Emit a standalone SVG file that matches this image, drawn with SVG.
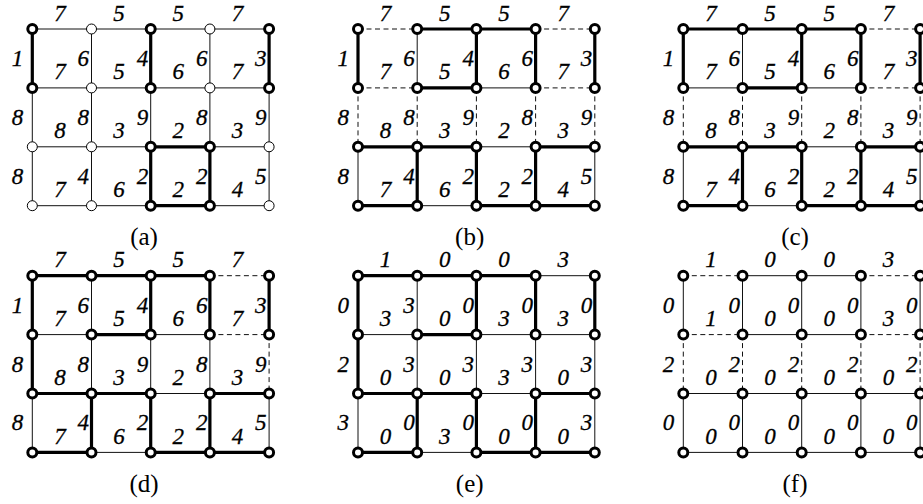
<svg xmlns="http://www.w3.org/2000/svg" width="923" height="504" viewBox="0 0 923 504">
<style>
.t{stroke:#111;stroke-width:1;fill:none}
.k{stroke:#000;stroke-width:3.2;fill:none}
.d{stroke:#111;stroke-width:1;stroke-dasharray:5 3.5;fill:none}
.b{fill:#fff;stroke:#000;stroke-width:3}
.s{fill:#fff;stroke:#000;stroke-width:1}
.w{font-family:'Liberation Serif','Times New Roman',Times,serif;font-style:italic;font-size:23px;fill:#000;stroke:#000;stroke-width:0.3}
.h{text-anchor:middle}
.v{text-anchor:end}
.cap{font-family:'Liberation Serif','Times New Roman',Times,serif;font-size:25px;text-anchor:middle;fill:#000}
</style>
<rect width="923" height="504" fill="#fff"/>

<!-- Panel (a) -->
<g id="panel-a">
<g id="a-connectors">
<line class="t" x1="32.3" y1="29" x2="91.5" y2="29"/><line class="t" x1="91.5" y1="29" x2="150.7" y2="29"/><line class="t" x1="150.7" y1="29" x2="209.9" y2="29"/><line class="t" x1="209.9" y1="29" x2="269.1" y2="29"/>
<line class="t" x1="32.3" y1="87.9" x2="91.5" y2="87.9"/><line class="t" x1="91.5" y1="87.9" x2="150.7" y2="87.9"/><line class="t" x1="150.7" y1="87.9" x2="209.9" y2="87.9"/><line class="t" x1="209.9" y1="87.9" x2="269.1" y2="87.9"/>
<line class="t" x1="32.3" y1="146.8" x2="91.5" y2="146.8"/><line class="t" x1="91.5" y1="146.8" x2="150.7" y2="146.8"/><line class="k" x1="150.7" y1="146.8" x2="209.9" y2="146.8"/><line class="t" x1="209.9" y1="146.8" x2="269.1" y2="146.8"/>
<line class="t" x1="32.3" y1="205.7" x2="91.5" y2="205.7"/><line class="t" x1="91.5" y1="205.7" x2="150.7" y2="205.7"/><line class="k" x1="150.7" y1="205.7" x2="209.9" y2="205.7"/><line class="t" x1="209.9" y1="205.7" x2="269.1" y2="205.7"/>
<line class="k" x1="32.3" y1="29" x2="32.3" y2="87.9"/><line class="t" x1="91.5" y1="29" x2="91.5" y2="87.9"/><line class="k" x1="150.7" y1="29" x2="150.7" y2="87.9"/><line class="t" x1="209.9" y1="29" x2="209.9" y2="87.9"/><line class="k" x1="269.1" y1="29" x2="269.1" y2="87.9"/>
<line class="t" x1="32.3" y1="87.9" x2="32.3" y2="146.8"/><line class="t" x1="91.5" y1="87.9" x2="91.5" y2="146.8"/><line class="t" x1="150.7" y1="87.9" x2="150.7" y2="146.8"/><line class="t" x1="209.9" y1="87.9" x2="209.9" y2="146.8"/><line class="t" x1="269.1" y1="87.9" x2="269.1" y2="146.8"/>
<line class="t" x1="32.3" y1="146.8" x2="32.3" y2="205.7"/><line class="t" x1="91.5" y1="146.8" x2="91.5" y2="205.7"/><line class="k" x1="150.7" y1="146.8" x2="150.7" y2="205.7"/><line class="k" x1="209.9" y1="146.8" x2="209.9" y2="205.7"/><line class="t" x1="269.1" y1="146.8" x2="269.1" y2="205.7"/>
</g>
<g id="a-nodes">
<g id="a-n00"><circle class="b" cx="32.3" cy="29" r="4.5"/></g><g id="a-n10"><circle class="s" cx="91.5" cy="29" r="5"/></g><g id="a-n20"><circle class="b" cx="150.7" cy="29" r="4.5"/></g><g id="a-n30"><circle class="s" cx="209.9" cy="29" r="5"/></g><g id="a-n40"><circle class="b" cx="269.1" cy="29" r="4.5"/></g>
<g id="a-n01"><circle class="b" cx="32.3" cy="87.9" r="4.5"/></g><g id="a-n11"><circle class="s" cx="91.5" cy="87.9" r="5"/></g><g id="a-n21"><circle class="b" cx="150.7" cy="87.9" r="4.5"/></g><g id="a-n31"><circle class="s" cx="209.9" cy="87.9" r="5"/></g><g id="a-n41"><circle class="b" cx="269.1" cy="87.9" r="4.5"/></g>
<g id="a-n02"><circle class="s" cx="32.3" cy="146.8" r="5"/></g><g id="a-n12"><circle class="s" cx="91.5" cy="146.8" r="5"/></g><g id="a-n22"><circle class="b" cx="150.7" cy="146.8" r="4.5"/></g><g id="a-n32"><circle class="b" cx="209.9" cy="146.8" r="4.5"/></g><g id="a-n42"><circle class="s" cx="269.1" cy="146.8" r="5"/></g>
<g id="a-n03"><circle class="s" cx="32.3" cy="205.7" r="5"/></g><g id="a-n13"><circle class="s" cx="91.5" cy="205.7" r="5"/></g><g id="a-n23"><circle class="b" cx="150.7" cy="205.7" r="4.5"/></g><g id="a-n33"><circle class="b" cx="209.9" cy="205.7" r="4.5"/></g><g id="a-n43"><circle class="s" cx="269.1" cy="205.7" r="5"/></g>
</g>
<g id="a-weights" class="w">
<text class="h" x="59.9" y="20.5">7</text><text class="h" x="119.1" y="20.5">5</text><text class="h" x="178.3" y="20.5">5</text><text class="h" x="237.5" y="20.5">7</text>
<text class="h" x="59.9" y="79.4">7</text><text class="h" x="119.1" y="79.4">5</text><text class="h" x="178.3" y="79.4">6</text><text class="h" x="237.5" y="79.4">7</text>
<text class="h" x="59.9" y="138.3">8</text><text class="h" x="119.1" y="138.3">3</text><text class="h" x="178.3" y="138.3">2</text><text class="h" x="237.5" y="138.3">3</text>
<text class="h" x="59.9" y="197.2">7</text><text class="h" x="119.1" y="197.2">6</text><text class="h" x="178.3" y="197.2">2</text><text class="h" x="237.5" y="197.2">4</text>
<text class="v" x="23.3" y="66">1</text><text class="v" x="89" y="66">6</text><text class="v" x="148.2" y="66">4</text><text class="v" x="207.4" y="66">6</text><text class="v" x="266.6" y="66">3</text>
<text class="v" x="23.3" y="124.9">8</text><text class="v" x="89" y="124.9">8</text><text class="v" x="148.2" y="124.9">9</text><text class="v" x="207.4" y="124.9">8</text><text class="v" x="266.6" y="124.9">9</text>
<text class="v" x="23.3" y="183.8">8</text><text class="v" x="89" y="183.8">4</text><text class="v" x="148.2" y="183.8">2</text><text class="v" x="207.4" y="183.8">2</text><text class="v" x="266.6" y="183.8">5</text>
</g>
<text class="cap" x="144" y="245">(a)</text>
</g>

<!-- Panel (b) -->
<g id="panel-b" transform="translate(325.7,0)">
<g id="b-connectors">
<line class="d" x1="32.3" y1="29" x2="91.5" y2="29"/><line class="k" x1="91.5" y1="29" x2="150.7" y2="29"/><line class="k" x1="150.7" y1="29" x2="209.9" y2="29"/><line class="d" x1="209.9" y1="29" x2="269.1" y2="29"/>
<line class="d" x1="32.3" y1="87.9" x2="91.5" y2="87.9"/><line class="k" x1="91.5" y1="87.9" x2="150.7" y2="87.9"/><line class="t" x1="150.7" y1="87.9" x2="209.9" y2="87.9"/><line class="d" x1="209.9" y1="87.9" x2="269.1" y2="87.9"/>
<line class="k" x1="32.3" y1="146.8" x2="91.5" y2="146.8"/><line class="k" x1="91.5" y1="146.8" x2="150.7" y2="146.8"/><line class="t" x1="150.7" y1="146.8" x2="209.9" y2="146.8"/><line class="k" x1="209.9" y1="146.8" x2="269.1" y2="146.8"/>
<line class="k" x1="32.3" y1="205.7" x2="91.5" y2="205.7"/><line class="t" x1="91.5" y1="205.7" x2="150.7" y2="205.7"/><line class="k" x1="150.7" y1="205.7" x2="209.9" y2="205.7"/><line class="k" x1="209.9" y1="205.7" x2="269.1" y2="205.7"/>
<line class="k" x1="32.3" y1="29" x2="32.3" y2="87.9"/><line class="t" x1="91.5" y1="29" x2="91.5" y2="87.9"/><line class="k" x1="150.7" y1="29" x2="150.7" y2="87.9"/><line class="k" x1="209.9" y1="29" x2="209.9" y2="87.9"/><line class="k" x1="269.1" y1="29" x2="269.1" y2="87.9"/>
<line class="d" x1="32.3" y1="87.9" x2="32.3" y2="146.8"/><line class="d" x1="91.5" y1="87.9" x2="91.5" y2="146.8"/><line class="d" x1="150.7" y1="87.9" x2="150.7" y2="146.8"/><line class="d" x1="209.9" y1="87.9" x2="209.9" y2="146.8"/><line class="d" x1="269.1" y1="87.9" x2="269.1" y2="146.8"/>
<line class="t" x1="32.3" y1="146.8" x2="32.3" y2="205.7"/><line class="k" x1="91.5" y1="146.8" x2="91.5" y2="205.7"/><line class="k" x1="150.7" y1="146.8" x2="150.7" y2="205.7"/><line class="k" x1="209.9" y1="146.8" x2="209.9" y2="205.7"/><line class="t" x1="269.1" y1="146.8" x2="269.1" y2="205.7"/>
</g>
<g id="b-nodes">
<g id="b-n00"><circle class="b" cx="32.3" cy="29" r="4.5"/></g><g id="b-n10"><circle class="b" cx="91.5" cy="29" r="4.5"/></g><g id="b-n20"><circle class="b" cx="150.7" cy="29" r="4.5"/></g><g id="b-n30"><circle class="b" cx="209.9" cy="29" r="4.5"/></g><g id="b-n40"><circle class="b" cx="269.1" cy="29" r="4.5"/></g>
<g id="b-n01"><circle class="b" cx="32.3" cy="87.9" r="4.5"/></g><g id="b-n11"><circle class="b" cx="91.5" cy="87.9" r="4.5"/></g><g id="b-n21"><circle class="b" cx="150.7" cy="87.9" r="4.5"/></g><g id="b-n31"><circle class="b" cx="209.9" cy="87.9" r="4.5"/></g><g id="b-n41"><circle class="b" cx="269.1" cy="87.9" r="4.5"/></g>
<g id="b-n02"><circle class="b" cx="32.3" cy="146.8" r="4.5"/></g><g id="b-n12"><circle class="b" cx="91.5" cy="146.8" r="4.5"/></g><g id="b-n22"><circle class="b" cx="150.7" cy="146.8" r="4.5"/></g><g id="b-n32"><circle class="b" cx="209.9" cy="146.8" r="4.5"/></g><g id="b-n42"><circle class="b" cx="269.1" cy="146.8" r="4.5"/></g>
<g id="b-n03"><circle class="b" cx="32.3" cy="205.7" r="4.5"/></g><g id="b-n13"><circle class="b" cx="91.5" cy="205.7" r="4.5"/></g><g id="b-n23"><circle class="b" cx="150.7" cy="205.7" r="4.5"/></g><g id="b-n33"><circle class="b" cx="209.9" cy="205.7" r="4.5"/></g><g id="b-n43"><circle class="b" cx="269.1" cy="205.7" r="4.5"/></g>
</g>
<g id="b-weights" class="w">
<text class="h" x="59.9" y="20.5">7</text><text class="h" x="119.1" y="20.5">5</text><text class="h" x="178.3" y="20.5">5</text><text class="h" x="237.5" y="20.5">7</text>
<text class="h" x="59.9" y="79.4">7</text><text class="h" x="119.1" y="79.4">5</text><text class="h" x="178.3" y="79.4">6</text><text class="h" x="237.5" y="79.4">7</text>
<text class="h" x="59.9" y="138.3">8</text><text class="h" x="119.1" y="138.3">3</text><text class="h" x="178.3" y="138.3">2</text><text class="h" x="237.5" y="138.3">3</text>
<text class="h" x="59.9" y="197.2">7</text><text class="h" x="119.1" y="197.2">6</text><text class="h" x="178.3" y="197.2">2</text><text class="h" x="237.5" y="197.2">4</text>
<text class="v" x="23.3" y="66">1</text><text class="v" x="89" y="66">6</text><text class="v" x="148.2" y="66">4</text><text class="v" x="207.4" y="66">6</text><text class="v" x="266.6" y="66">3</text>
<text class="v" x="23.3" y="124.9">8</text><text class="v" x="89" y="124.9">8</text><text class="v" x="148.2" y="124.9">9</text><text class="v" x="207.4" y="124.9">8</text><text class="v" x="266.6" y="124.9">9</text>
<text class="v" x="23.3" y="183.8">8</text><text class="v" x="89" y="183.8">4</text><text class="v" x="148.2" y="183.8">2</text><text class="v" x="207.4" y="183.8">2</text><text class="v" x="266.6" y="183.8">5</text>
</g>
<text class="cap" x="144" y="245">(b)</text>
</g>

<!-- Panel (c) -->
<g id="panel-c" transform="translate(651,0)">
<g id="c-connectors">
<line class="k" x1="32.3" y1="29" x2="91.5" y2="29"/><line class="k" x1="91.5" y1="29" x2="150.7" y2="29"/><line class="k" x1="150.7" y1="29" x2="209.9" y2="29"/><line class="d" x1="209.9" y1="29" x2="269.1" y2="29"/>
<line class="t" x1="32.3" y1="87.9" x2="91.5" y2="87.9"/><line class="k" x1="91.5" y1="87.9" x2="150.7" y2="87.9"/><line class="t" x1="150.7" y1="87.9" x2="209.9" y2="87.9"/><line class="d" x1="209.9" y1="87.9" x2="269.1" y2="87.9"/>
<line class="k" x1="32.3" y1="146.8" x2="91.5" y2="146.8"/><line class="k" x1="91.5" y1="146.8" x2="150.7" y2="146.8"/><line class="t" x1="150.7" y1="146.8" x2="209.9" y2="146.8"/><line class="k" x1="209.9" y1="146.8" x2="269.1" y2="146.8"/>
<line class="k" x1="32.3" y1="205.7" x2="91.5" y2="205.7"/><line class="t" x1="91.5" y1="205.7" x2="150.7" y2="205.7"/><line class="k" x1="150.7" y1="205.7" x2="209.9" y2="205.7"/><line class="k" x1="209.9" y1="205.7" x2="269.1" y2="205.7"/>
<line class="k" x1="32.3" y1="29" x2="32.3" y2="87.9"/><line class="t" x1="91.5" y1="29" x2="91.5" y2="87.9"/><line class="k" x1="150.7" y1="29" x2="150.7" y2="87.9"/><line class="k" x1="209.9" y1="29" x2="209.9" y2="87.9"/><line class="k" x1="269.1" y1="29" x2="269.1" y2="87.9"/>
<line class="d" x1="32.3" y1="87.9" x2="32.3" y2="146.8"/><line class="d" x1="91.5" y1="87.9" x2="91.5" y2="146.8"/><line class="d" x1="150.7" y1="87.9" x2="150.7" y2="146.8"/><line class="d" x1="209.9" y1="87.9" x2="209.9" y2="146.8"/><line class="d" x1="269.1" y1="87.9" x2="269.1" y2="146.8"/>
<line class="t" x1="32.3" y1="146.8" x2="32.3" y2="205.7"/><line class="k" x1="91.5" y1="146.8" x2="91.5" y2="205.7"/><line class="k" x1="150.7" y1="146.8" x2="150.7" y2="205.7"/><line class="k" x1="209.9" y1="146.8" x2="209.9" y2="205.7"/><line class="t" x1="269.1" y1="146.8" x2="269.1" y2="205.7"/>
</g>
<g id="c-nodes">
<g id="c-n00"><circle class="b" cx="32.3" cy="29" r="4.5"/></g><g id="c-n10"><circle class="b" cx="91.5" cy="29" r="4.5"/></g><g id="c-n20"><circle class="b" cx="150.7" cy="29" r="4.5"/></g><g id="c-n30"><circle class="b" cx="209.9" cy="29" r="4.5"/></g><g id="c-n40"><circle class="b" cx="269.1" cy="29" r="4.5"/></g>
<g id="c-n01"><circle class="b" cx="32.3" cy="87.9" r="4.5"/></g><g id="c-n11"><circle class="b" cx="91.5" cy="87.9" r="4.5"/></g><g id="c-n21"><circle class="b" cx="150.7" cy="87.9" r="4.5"/></g><g id="c-n31"><circle class="b" cx="209.9" cy="87.9" r="4.5"/></g><g id="c-n41"><circle class="b" cx="269.1" cy="87.9" r="4.5"/></g>
<g id="c-n02"><circle class="b" cx="32.3" cy="146.8" r="4.5"/></g><g id="c-n12"><circle class="b" cx="91.5" cy="146.8" r="4.5"/></g><g id="c-n22"><circle class="b" cx="150.7" cy="146.8" r="4.5"/></g><g id="c-n32"><circle class="b" cx="209.9" cy="146.8" r="4.5"/></g><g id="c-n42"><circle class="b" cx="269.1" cy="146.8" r="4.5"/></g>
<g id="c-n03"><circle class="b" cx="32.3" cy="205.7" r="4.5"/></g><g id="c-n13"><circle class="b" cx="91.5" cy="205.7" r="4.5"/></g><g id="c-n23"><circle class="b" cx="150.7" cy="205.7" r="4.5"/></g><g id="c-n33"><circle class="b" cx="209.9" cy="205.7" r="4.5"/></g><g id="c-n43"><circle class="b" cx="269.1" cy="205.7" r="4.5"/></g>
</g>
<g id="c-weights" class="w">
<text class="h" x="59.9" y="20.5">7</text><text class="h" x="119.1" y="20.5">5</text><text class="h" x="178.3" y="20.5">5</text><text class="h" x="237.5" y="20.5">7</text>
<text class="h" x="59.9" y="79.4">7</text><text class="h" x="119.1" y="79.4">5</text><text class="h" x="178.3" y="79.4">6</text><text class="h" x="237.5" y="79.4">7</text>
<text class="h" x="59.9" y="138.3">8</text><text class="h" x="119.1" y="138.3">3</text><text class="h" x="178.3" y="138.3">2</text><text class="h" x="237.5" y="138.3">3</text>
<text class="h" x="59.9" y="197.2">7</text><text class="h" x="119.1" y="197.2">6</text><text class="h" x="178.3" y="197.2">2</text><text class="h" x="237.5" y="197.2">4</text>
<text class="v" x="23.3" y="66">1</text><text class="v" x="89" y="66">6</text><text class="v" x="148.2" y="66">4</text><text class="v" x="207.4" y="66">6</text><text class="v" x="266.6" y="66">3</text>
<text class="v" x="23.3" y="124.9">8</text><text class="v" x="89" y="124.9">8</text><text class="v" x="148.2" y="124.9">9</text><text class="v" x="207.4" y="124.9">8</text><text class="v" x="266.6" y="124.9">9</text>
<text class="v" x="23.3" y="183.8">8</text><text class="v" x="89" y="183.8">4</text><text class="v" x="148.2" y="183.8">2</text><text class="v" x="207.4" y="183.8">2</text><text class="v" x="266.6" y="183.8">5</text>
</g>
<text class="cap" x="144" y="245">(c)</text>
</g>

<!-- Panel (d) -->
<g id="panel-d" transform="translate(0,246.7)">
<g id="d-connectors">
<line class="k" x1="32.3" y1="29" x2="91.5" y2="29"/><line class="k" x1="91.5" y1="29" x2="150.7" y2="29"/><line class="k" x1="150.7" y1="29" x2="209.9" y2="29"/><line class="d" x1="209.9" y1="29" x2="269.1" y2="29"/>
<line class="t" x1="32.3" y1="87.9" x2="91.5" y2="87.9"/><line class="k" x1="91.5" y1="87.9" x2="150.7" y2="87.9"/><line class="t" x1="150.7" y1="87.9" x2="209.9" y2="87.9"/><line class="d" x1="209.9" y1="87.9" x2="269.1" y2="87.9"/>
<line class="k" x1="32.3" y1="146.8" x2="91.5" y2="146.8"/><line class="k" x1="91.5" y1="146.8" x2="150.7" y2="146.8"/><line class="t" x1="150.7" y1="146.8" x2="209.9" y2="146.8"/><line class="k" x1="209.9" y1="146.8" x2="269.1" y2="146.8"/>
<line class="k" x1="32.3" y1="205.7" x2="91.5" y2="205.7"/><line class="t" x1="91.5" y1="205.7" x2="150.7" y2="205.7"/><line class="k" x1="150.7" y1="205.7" x2="209.9" y2="205.7"/><line class="k" x1="209.9" y1="205.7" x2="269.1" y2="205.7"/>
<line class="k" x1="32.3" y1="29" x2="32.3" y2="87.9"/><line class="t" x1="91.5" y1="29" x2="91.5" y2="87.9"/><line class="k" x1="150.7" y1="29" x2="150.7" y2="87.9"/><line class="k" x1="209.9" y1="29" x2="209.9" y2="87.9"/><line class="k" x1="269.1" y1="29" x2="269.1" y2="87.9"/>
<line class="k" x1="32.3" y1="87.9" x2="32.3" y2="146.8"/><line class="t" x1="91.5" y1="87.9" x2="91.5" y2="146.8"/><line class="t" x1="150.7" y1="87.9" x2="150.7" y2="146.8"/><line class="t" x1="209.9" y1="87.9" x2="209.9" y2="146.8"/><line class="d" x1="269.1" y1="87.9" x2="269.1" y2="146.8"/>
<line class="t" x1="32.3" y1="146.8" x2="32.3" y2="205.7"/><line class="k" x1="91.5" y1="146.8" x2="91.5" y2="205.7"/><line class="k" x1="150.7" y1="146.8" x2="150.7" y2="205.7"/><line class="k" x1="209.9" y1="146.8" x2="209.9" y2="205.7"/><line class="t" x1="269.1" y1="146.8" x2="269.1" y2="205.7"/>
</g>
<g id="d-nodes">
<g id="d-n00"><circle class="b" cx="32.3" cy="29" r="4.5"/></g><g id="d-n10"><circle class="b" cx="91.5" cy="29" r="4.5"/></g><g id="d-n20"><circle class="b" cx="150.7" cy="29" r="4.5"/></g><g id="d-n30"><circle class="b" cx="209.9" cy="29" r="4.5"/></g><g id="d-n40"><circle class="b" cx="269.1" cy="29" r="4.5"/></g>
<g id="d-n01"><circle class="b" cx="32.3" cy="87.9" r="4.5"/></g><g id="d-n11"><circle class="b" cx="91.5" cy="87.9" r="4.5"/></g><g id="d-n21"><circle class="b" cx="150.7" cy="87.9" r="4.5"/></g><g id="d-n31"><circle class="b" cx="209.9" cy="87.9" r="4.5"/></g><g id="d-n41"><circle class="b" cx="269.1" cy="87.9" r="4.5"/></g>
<g id="d-n02"><circle class="b" cx="32.3" cy="146.8" r="4.5"/></g><g id="d-n12"><circle class="b" cx="91.5" cy="146.8" r="4.5"/></g><g id="d-n22"><circle class="b" cx="150.7" cy="146.8" r="4.5"/></g><g id="d-n32"><circle class="b" cx="209.9" cy="146.8" r="4.5"/></g><g id="d-n42"><circle class="b" cx="269.1" cy="146.8" r="4.5"/></g>
<g id="d-n03"><circle class="b" cx="32.3" cy="205.7" r="4.5"/></g><g id="d-n13"><circle class="b" cx="91.5" cy="205.7" r="4.5"/></g><g id="d-n23"><circle class="b" cx="150.7" cy="205.7" r="4.5"/></g><g id="d-n33"><circle class="b" cx="209.9" cy="205.7" r="4.5"/></g><g id="d-n43"><circle class="b" cx="269.1" cy="205.7" r="4.5"/></g>
</g>
<g id="d-weights" class="w">
<text class="h" x="59.9" y="20.5">7</text><text class="h" x="119.1" y="20.5">5</text><text class="h" x="178.3" y="20.5">5</text><text class="h" x="237.5" y="20.5">7</text>
<text class="h" x="59.9" y="79.4">7</text><text class="h" x="119.1" y="79.4">5</text><text class="h" x="178.3" y="79.4">6</text><text class="h" x="237.5" y="79.4">7</text>
<text class="h" x="59.9" y="138.3">8</text><text class="h" x="119.1" y="138.3">3</text><text class="h" x="178.3" y="138.3">2</text><text class="h" x="237.5" y="138.3">3</text>
<text class="h" x="59.9" y="197.2">7</text><text class="h" x="119.1" y="197.2">6</text><text class="h" x="178.3" y="197.2">2</text><text class="h" x="237.5" y="197.2">4</text>
<text class="v" x="23.3" y="66">1</text><text class="v" x="89" y="66">6</text><text class="v" x="148.2" y="66">4</text><text class="v" x="207.4" y="66">6</text><text class="v" x="266.6" y="66">3</text>
<text class="v" x="23.3" y="124.9">8</text><text class="v" x="89" y="124.9">8</text><text class="v" x="148.2" y="124.9">9</text><text class="v" x="207.4" y="124.9">8</text><text class="v" x="266.6" y="124.9">9</text>
<text class="v" x="23.3" y="183.8">8</text><text class="v" x="89" y="183.8">4</text><text class="v" x="148.2" y="183.8">2</text><text class="v" x="207.4" y="183.8">2</text><text class="v" x="266.6" y="183.8">5</text>
</g>
<text class="cap" x="144" y="245">(d)</text>
</g>

<!-- Panel (e) -->
<g id="panel-e" transform="translate(325.7,246.7)">
<g id="e-connectors">
<line class="k" x1="32.3" y1="29" x2="91.5" y2="29"/><line class="k" x1="91.5" y1="29" x2="150.7" y2="29"/><line class="k" x1="150.7" y1="29" x2="209.9" y2="29"/><line class="t" x1="209.9" y1="29" x2="269.1" y2="29"/>
<line class="t" x1="32.3" y1="87.9" x2="91.5" y2="87.9"/><line class="k" x1="91.5" y1="87.9" x2="150.7" y2="87.9"/><line class="t" x1="150.7" y1="87.9" x2="209.9" y2="87.9"/><line class="t" x1="209.9" y1="87.9" x2="269.1" y2="87.9"/>
<line class="k" x1="32.3" y1="146.8" x2="91.5" y2="146.8"/><line class="k" x1="91.5" y1="146.8" x2="150.7" y2="146.8"/><line class="t" x1="150.7" y1="146.8" x2="209.9" y2="146.8"/><line class="k" x1="209.9" y1="146.8" x2="269.1" y2="146.8"/>
<line class="k" x1="32.3" y1="205.7" x2="91.5" y2="205.7"/><line class="t" x1="91.5" y1="205.7" x2="150.7" y2="205.7"/><line class="k" x1="150.7" y1="205.7" x2="209.9" y2="205.7"/><line class="k" x1="209.9" y1="205.7" x2="269.1" y2="205.7"/>
<line class="k" x1="32.3" y1="29" x2="32.3" y2="87.9"/><line class="t" x1="91.5" y1="29" x2="91.5" y2="87.9"/><line class="k" x1="150.7" y1="29" x2="150.7" y2="87.9"/><line class="k" x1="209.9" y1="29" x2="209.9" y2="87.9"/><line class="k" x1="269.1" y1="29" x2="269.1" y2="87.9"/>
<line class="k" x1="32.3" y1="87.9" x2="32.3" y2="146.8"/><line class="t" x1="91.5" y1="87.9" x2="91.5" y2="146.8"/><line class="t" x1="150.7" y1="87.9" x2="150.7" y2="146.8"/><line class="t" x1="209.9" y1="87.9" x2="209.9" y2="146.8"/><line class="t" x1="269.1" y1="87.9" x2="269.1" y2="146.8"/>
<line class="t" x1="32.3" y1="146.8" x2="32.3" y2="205.7"/><line class="k" x1="91.5" y1="146.8" x2="91.5" y2="205.7"/><line class="k" x1="150.7" y1="146.8" x2="150.7" y2="205.7"/><line class="k" x1="209.9" y1="146.8" x2="209.9" y2="205.7"/><line class="t" x1="269.1" y1="146.8" x2="269.1" y2="205.7"/>
</g>
<g id="e-nodes">
<g id="e-n00"><circle class="b" cx="32.3" cy="29" r="4.5"/></g><g id="e-n10"><circle class="b" cx="91.5" cy="29" r="4.5"/></g><g id="e-n20"><circle class="b" cx="150.7" cy="29" r="4.5"/></g><g id="e-n30"><circle class="b" cx="209.9" cy="29" r="4.5"/></g><g id="e-n40"><circle class="b" cx="269.1" cy="29" r="4.5"/></g>
<g id="e-n01"><circle class="b" cx="32.3" cy="87.9" r="4.5"/></g><g id="e-n11"><circle class="b" cx="91.5" cy="87.9" r="4.5"/></g><g id="e-n21"><circle class="b" cx="150.7" cy="87.9" r="4.5"/></g><g id="e-n31"><circle class="b" cx="209.9" cy="87.9" r="4.5"/></g><g id="e-n41"><circle class="b" cx="269.1" cy="87.9" r="4.5"/></g>
<g id="e-n02"><circle class="b" cx="32.3" cy="146.8" r="4.5"/></g><g id="e-n12"><circle class="b" cx="91.5" cy="146.8" r="4.5"/></g><g id="e-n22"><circle class="b" cx="150.7" cy="146.8" r="4.5"/></g><g id="e-n32"><circle class="b" cx="209.9" cy="146.8" r="4.5"/></g><g id="e-n42"><circle class="b" cx="269.1" cy="146.8" r="4.5"/></g>
<g id="e-n03"><circle class="b" cx="32.3" cy="205.7" r="4.5"/></g><g id="e-n13"><circle class="b" cx="91.5" cy="205.7" r="4.5"/></g><g id="e-n23"><circle class="b" cx="150.7" cy="205.7" r="4.5"/></g><g id="e-n33"><circle class="b" cx="209.9" cy="205.7" r="4.5"/></g><g id="e-n43"><circle class="b" cx="269.1" cy="205.7" r="4.5"/></g>
</g>
<g id="e-weights" class="w">
<text class="h" x="59.9" y="20.5">1</text><text class="h" x="119.1" y="20.5">0</text><text class="h" x="178.3" y="20.5">0</text><text class="h" x="237.5" y="20.5">3</text>
<text class="h" x="59.9" y="79.4">3</text><text class="h" x="119.1" y="79.4">0</text><text class="h" x="178.3" y="79.4">3</text><text class="h" x="237.5" y="79.4">3</text>
<text class="h" x="59.9" y="138.3">0</text><text class="h" x="119.1" y="138.3">0</text><text class="h" x="178.3" y="138.3">3</text><text class="h" x="237.5" y="138.3">0</text>
<text class="h" x="59.9" y="197.2">0</text><text class="h" x="119.1" y="197.2">3</text><text class="h" x="178.3" y="197.2">0</text><text class="h" x="237.5" y="197.2">0</text>
<text class="v" x="23.3" y="66">0</text><text class="v" x="89" y="66">3</text><text class="v" x="148.2" y="66">0</text><text class="v" x="207.4" y="66">0</text><text class="v" x="266.6" y="66">0</text>
<text class="v" x="23.3" y="124.9">2</text><text class="v" x="89" y="124.9">3</text><text class="v" x="148.2" y="124.9">3</text><text class="v" x="207.4" y="124.9">3</text><text class="v" x="266.6" y="124.9">3</text>
<text class="v" x="23.3" y="183.8">3</text><text class="v" x="89" y="183.8">0</text><text class="v" x="148.2" y="183.8">0</text><text class="v" x="207.4" y="183.8">0</text><text class="v" x="266.6" y="183.8">3</text>
</g>
<text class="cap" x="144" y="245">(e)</text>
</g>

<!-- Panel (f) -->
<g id="panel-f" transform="translate(651,246.7)">
<g id="f-connectors">
<line class="d" x1="32.3" y1="29" x2="91.5" y2="29"/><line class="t" x1="91.5" y1="29" x2="150.7" y2="29"/><line class="t" x1="150.7" y1="29" x2="209.9" y2="29"/><line class="d" x1="209.9" y1="29" x2="269.1" y2="29"/>
<line class="d" x1="32.3" y1="87.9" x2="91.5" y2="87.9"/><line class="t" x1="91.5" y1="87.9" x2="150.7" y2="87.9"/><line class="t" x1="150.7" y1="87.9" x2="209.9" y2="87.9"/><line class="d" x1="209.9" y1="87.9" x2="269.1" y2="87.9"/>
<line class="t" x1="32.3" y1="146.8" x2="91.5" y2="146.8"/><line class="t" x1="91.5" y1="146.8" x2="150.7" y2="146.8"/><line class="t" x1="150.7" y1="146.8" x2="209.9" y2="146.8"/><line class="t" x1="209.9" y1="146.8" x2="269.1" y2="146.8"/>
<line class="t" x1="32.3" y1="205.7" x2="91.5" y2="205.7"/><line class="t" x1="91.5" y1="205.7" x2="150.7" y2="205.7"/><line class="t" x1="150.7" y1="205.7" x2="209.9" y2="205.7"/><line class="t" x1="209.9" y1="205.7" x2="269.1" y2="205.7"/>
<line class="t" x1="32.3" y1="29" x2="32.3" y2="87.9"/><line class="t" x1="91.5" y1="29" x2="91.5" y2="87.9"/><line class="t" x1="150.7" y1="29" x2="150.7" y2="87.9"/><line class="t" x1="209.9" y1="29" x2="209.9" y2="87.9"/><line class="t" x1="269.1" y1="29" x2="269.1" y2="87.9"/>
<line class="d" x1="32.3" y1="87.9" x2="32.3" y2="146.8"/><line class="d" x1="91.5" y1="87.9" x2="91.5" y2="146.8"/><line class="d" x1="150.7" y1="87.9" x2="150.7" y2="146.8"/><line class="d" x1="209.9" y1="87.9" x2="209.9" y2="146.8"/><line class="d" x1="269.1" y1="87.9" x2="269.1" y2="146.8"/>
<line class="t" x1="32.3" y1="146.8" x2="32.3" y2="205.7"/><line class="t" x1="91.5" y1="146.8" x2="91.5" y2="205.7"/><line class="t" x1="150.7" y1="146.8" x2="150.7" y2="205.7"/><line class="t" x1="209.9" y1="146.8" x2="209.9" y2="205.7"/><line class="t" x1="269.1" y1="146.8" x2="269.1" y2="205.7"/>
</g>
<g id="f-nodes">
<g id="f-n00"><circle class="b" cx="32.3" cy="29" r="4.5"/></g><g id="f-n10"><circle class="b" cx="91.5" cy="29" r="4.5"/></g><g id="f-n20"><circle class="b" cx="150.7" cy="29" r="4.5"/></g><g id="f-n30"><circle class="b" cx="209.9" cy="29" r="4.5"/></g><g id="f-n40"><circle class="b" cx="269.1" cy="29" r="4.5"/></g>
<g id="f-n01"><circle class="b" cx="32.3" cy="87.9" r="4.5"/></g><g id="f-n11"><circle class="b" cx="91.5" cy="87.9" r="4.5"/></g><g id="f-n21"><circle class="b" cx="150.7" cy="87.9" r="4.5"/></g><g id="f-n31"><circle class="b" cx="209.9" cy="87.9" r="4.5"/></g><g id="f-n41"><circle class="b" cx="269.1" cy="87.9" r="4.5"/></g>
<g id="f-n02"><circle class="b" cx="32.3" cy="146.8" r="4.5"/></g><g id="f-n12"><circle class="b" cx="91.5" cy="146.8" r="4.5"/></g><g id="f-n22"><circle class="b" cx="150.7" cy="146.8" r="4.5"/></g><g id="f-n32"><circle class="b" cx="209.9" cy="146.8" r="4.5"/></g><g id="f-n42"><circle class="b" cx="269.1" cy="146.8" r="4.5"/></g>
<g id="f-n03"><circle class="b" cx="32.3" cy="205.7" r="4.5"/></g><g id="f-n13"><circle class="b" cx="91.5" cy="205.7" r="4.5"/></g><g id="f-n23"><circle class="b" cx="150.7" cy="205.7" r="4.5"/></g><g id="f-n33"><circle class="b" cx="209.9" cy="205.7" r="4.5"/></g><g id="f-n43"><circle class="b" cx="269.1" cy="205.7" r="4.5"/></g>
</g>
<g id="f-weights" class="w">
<text class="h" x="59.9" y="20.5">1</text><text class="h" x="119.1" y="20.5">0</text><text class="h" x="178.3" y="20.5">0</text><text class="h" x="237.5" y="20.5">3</text>
<text class="h" x="59.9" y="79.4">1</text><text class="h" x="119.1" y="79.4">0</text><text class="h" x="178.3" y="79.4">0</text><text class="h" x="237.5" y="79.4">3</text>
<text class="h" x="59.9" y="138.3">0</text><text class="h" x="119.1" y="138.3">0</text><text class="h" x="178.3" y="138.3">0</text><text class="h" x="237.5" y="138.3">0</text>
<text class="h" x="59.9" y="197.2">0</text><text class="h" x="119.1" y="197.2">0</text><text class="h" x="178.3" y="197.2">0</text><text class="h" x="237.5" y="197.2">0</text>
<text class="v" x="23.3" y="66">0</text><text class="v" x="89" y="66">0</text><text class="v" x="148.2" y="66">0</text><text class="v" x="207.4" y="66">0</text><text class="v" x="266.6" y="66">0</text>
<text class="v" x="23.3" y="124.9">2</text><text class="v" x="89" y="124.9">2</text><text class="v" x="148.2" y="124.9">2</text><text class="v" x="207.4" y="124.9">2</text><text class="v" x="266.6" y="124.9">2</text>
<text class="v" x="23.3" y="183.8">0</text><text class="v" x="89" y="183.8">0</text><text class="v" x="148.2" y="183.8">0</text><text class="v" x="207.4" y="183.8">0</text><text class="v" x="266.6" y="183.8">0</text>
</g>
<text class="cap" x="144" y="245">(f)</text>
</g>
</svg>
